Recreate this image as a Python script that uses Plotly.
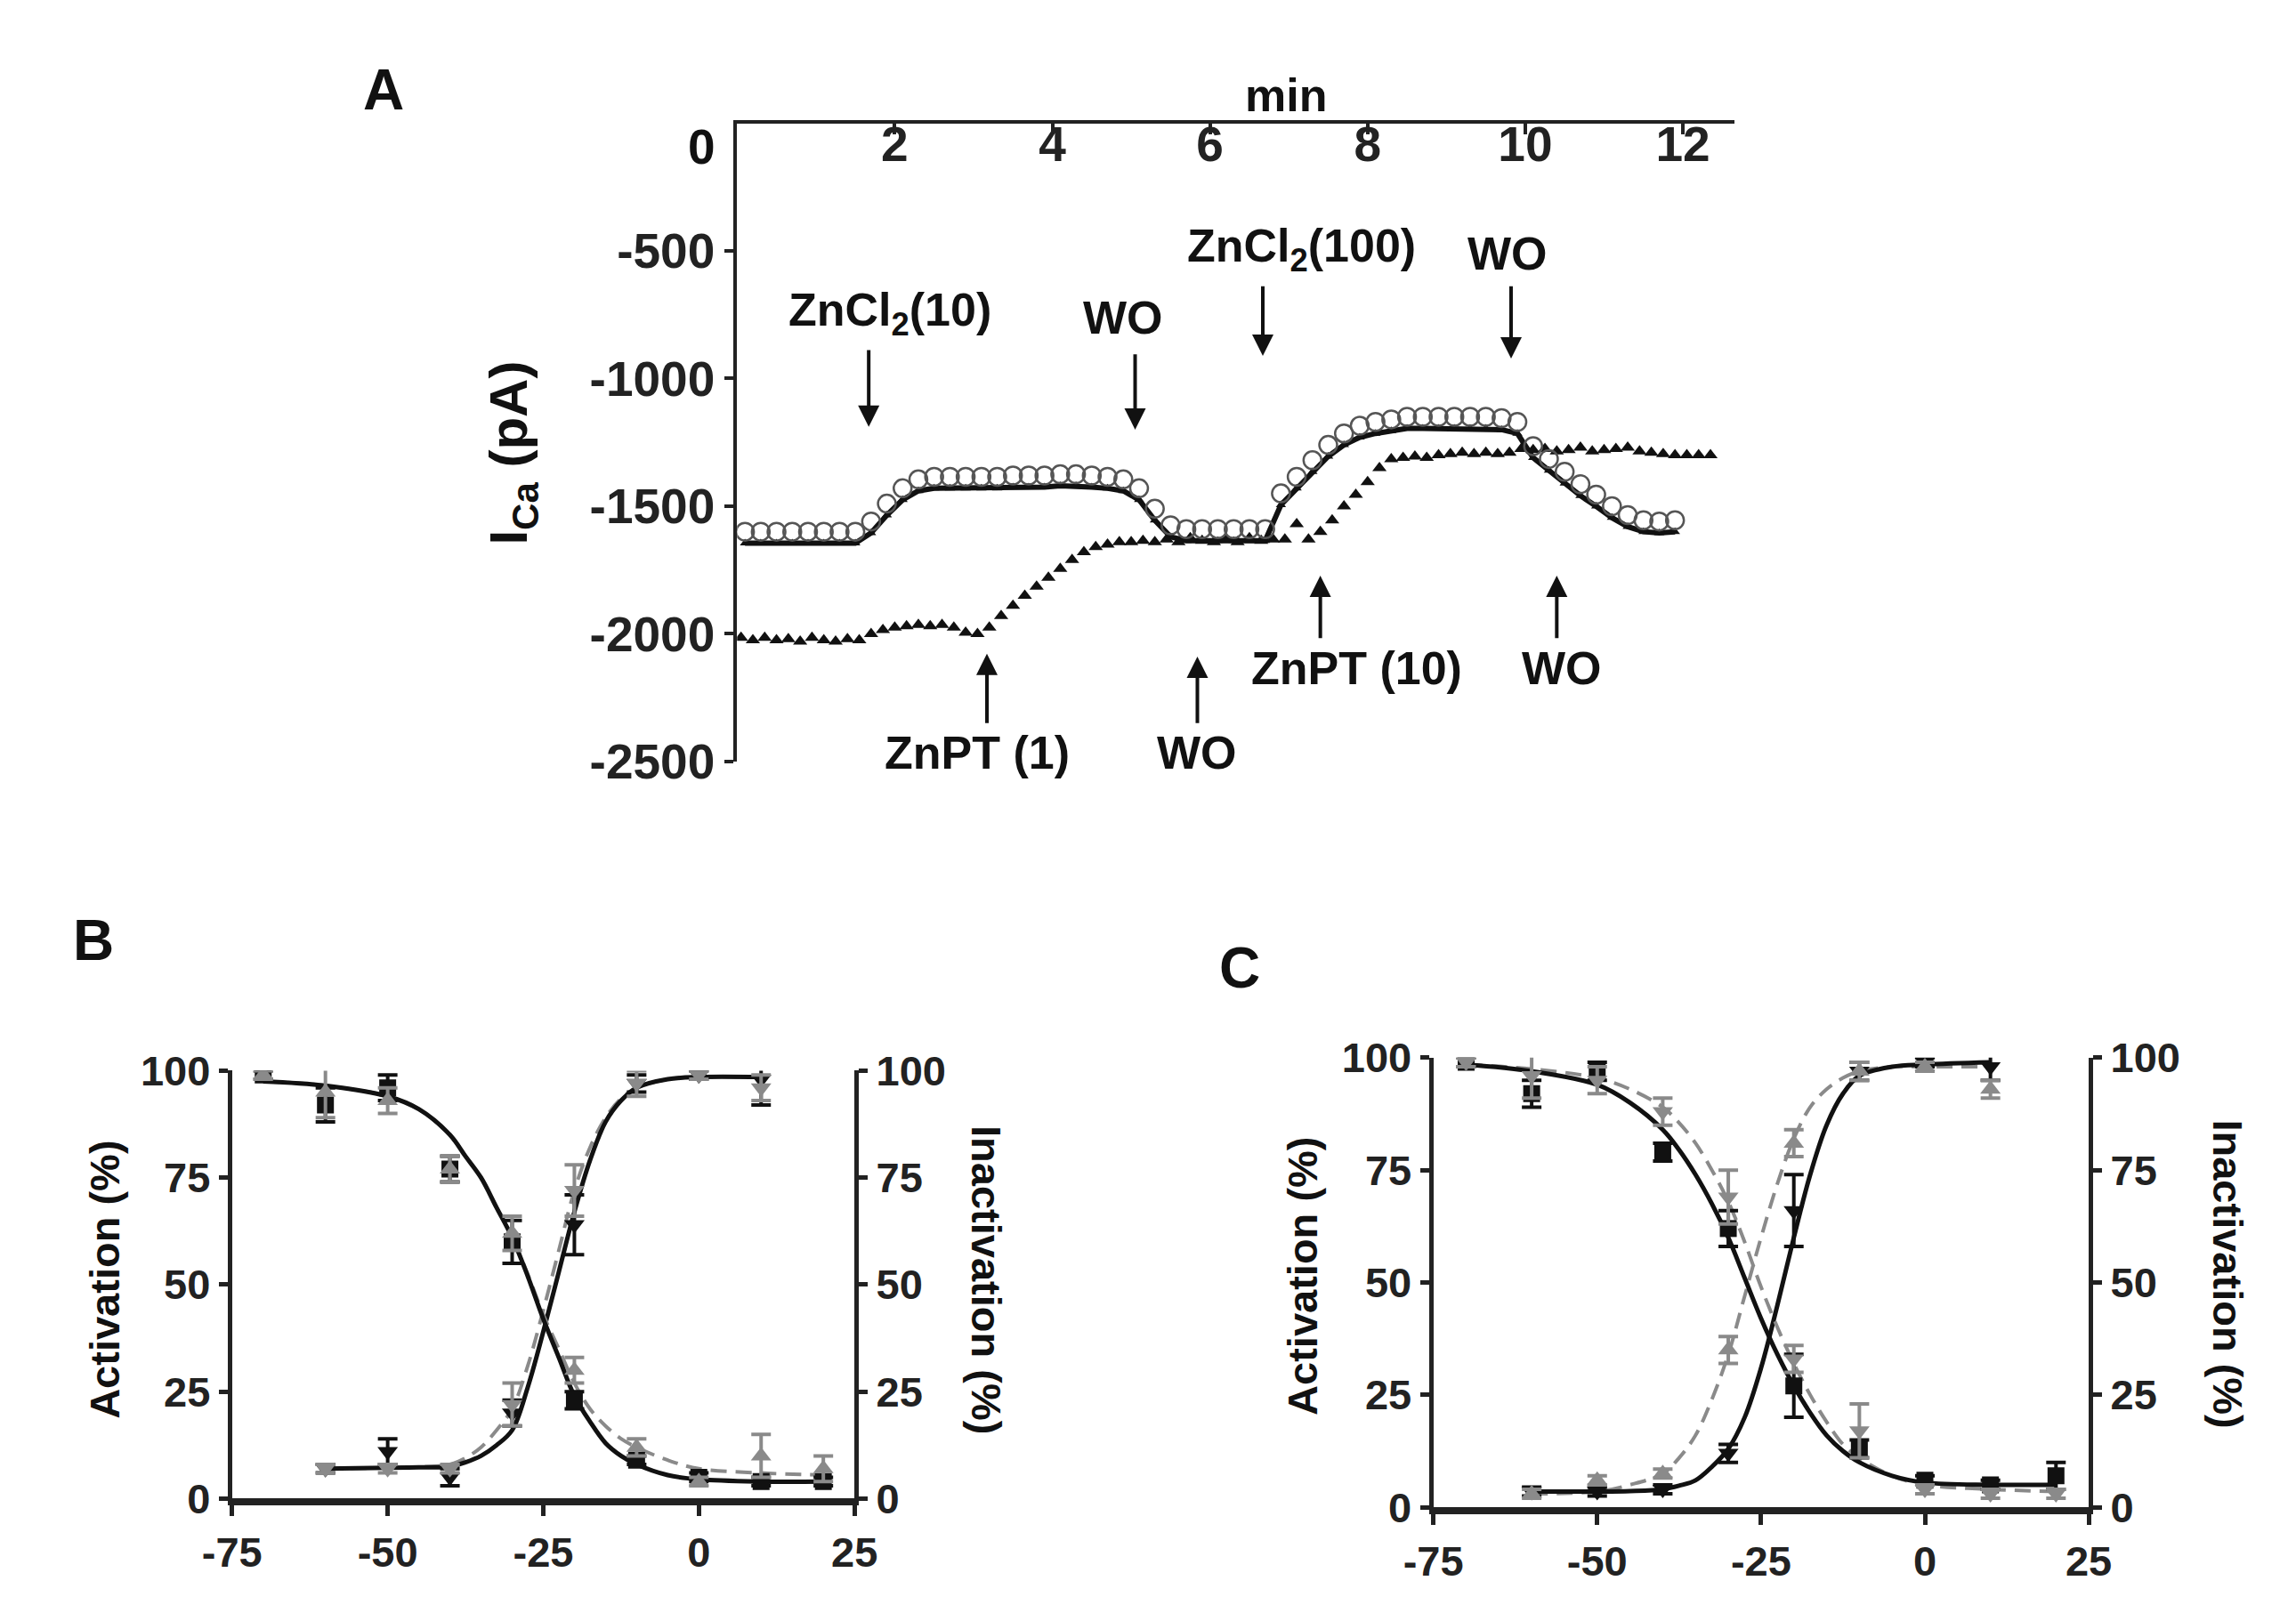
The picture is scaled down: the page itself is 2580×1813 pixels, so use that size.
import plotly.graph_objects as go

# ---------------- Panel A : time course (min, pA) ----------------
t_circ = [0.1, 0.3, 0.5, 0.7, 0.9, 1.1, 1.3, 1.5, 1.7, 1.9,
          2.1, 2.3, 2.5, 2.7, 2.9, 3.1, 3.3, 3.5, 3.7, 3.9,
          4.1, 4.3, 4.5, 4.7, 4.9, 5.1, 5.3, 5.5, 5.7, 5.9,
          6.1, 6.3, 6.5, 6.7, 6.9, 7.1, 7.3, 7.5, 7.7, 7.9,
          8.1, 8.3, 8.5, 8.7, 8.9, 9.1, 9.3, 9.5, 9.7, 9.9,
          10.1, 10.3, 10.5, 10.7, 10.9, 11.1, 11.3, 11.5, 11.7, 11.9]
i_circ = [-1600, -1600, -1600, -1600, -1600, -1600, -1600, -1600, -1560, -1490,
          -1430, -1395, -1385, -1385, -1385, -1385, -1385, -1380, -1380, -1380,
          -1375, -1375, -1380, -1385, -1395, -1430, -1510, -1575, -1590, -1590,
          -1590, -1590, -1590, -1590, -1450, -1385, -1320, -1260, -1215, -1185,
          -1170, -1160, -1150, -1150, -1150, -1150, -1150, -1150, -1155, -1170,
          -1265, -1315, -1365, -1414, -1455, -1500, -1535, -1555, -1560, -1555]
# dark trace running just under the open circles
i_circ_low = [-1645, -1645, -1645, -1645, -1645, -1645, -1645, -1645, -1605, -1535,
              -1475, -1440, -1430, -1430, -1430, -1430, -1430, -1425, -1425, -1425,
              -1420, -1420, -1425, -1430, -1440, -1475, -1555, -1620, -1635, -1635,
              -1635, -1635, -1635, -1635, -1495, -1430, -1365, -1305, -1260, -1230,
              -1215, -1205, -1195, -1195, -1195, -1195, -1195, -1195, -1200, -1215,
              -1310, -1360, -1410, -1459, -1500, -1545, -1580, -1600, -1605, -1600]

t_tri = [0.05, 0.2, 0.35, 0.5, 0.65, 0.8, 0.95, 1.1, 1.25, 1.4, 1.55,
         1.7, 1.85, 2.0, 2.15, 2.3, 2.45, 2.6, 2.75,
         2.9, 3.05, 3.2, 3.35, 3.5, 3.65, 3.8, 3.95, 4.1, 4.25, 4.4, 4.55, 4.7, 4.85, 5.0,
         5.15, 5.3, 5.45, 5.6, 5.75, 5.9, 6.05, 6.2, 6.35, 6.5, 6.65, 6.8, 6.95,
         7.1, 7.25, 7.4, 7.55, 7.7, 7.85, 8.0, 8.15, 8.3, 8.45, 8.6, 8.75, 8.9,
         9.05, 9.2, 9.35, 9.5, 9.65, 9.8, 9.95, 10.1, 10.25, 10.4, 10.55, 10.7,
         10.85, 11.0, 11.15, 11.3, 11.45, 11.6, 11.75, 11.9, 12.05, 12.2, 12.35]
i_tri = [-2015, -2025, -2015, -2025, -2020, -2030, -2015, -2025, -2030, -2020, -2025,
         -2000, -1985, -1975, -1970, -1965, -1970, -1965, -1975,
         -1995, -2000, -1975, -1930, -1890, -1850, -1815, -1780, -1745, -1710, -1680, -1660, -1650, -1640, -1640,
         -1635, -1640, -1630, -1640, -1625, -1635, -1640, -1630, -1640, -1625, -1635, -1630, -1630,
         -1570, -1630, -1600, -1555, -1500, -1455, -1405, -1350, -1315, -1310, -1305, -1310, -1300,
         -1295, -1290, -1295, -1290, -1295, -1290, -1275, -1280, -1275, -1285, -1280, -1270,
         -1285, -1280, -1275, -1270, -1285, -1290, -1295, -1300, -1300, -1300, -1300]

# ---------------- Panel B : activation / inactivation (mV, %) ----------------
v_act = [-60, -50, -40, -30, -20, -10, 0, 10]
v_inact = [-70, -60, -50, -40, -30, -20, -10, 0, 10, 20]

b_act_blk = [7, 11, 5, 20, 64, 97, 99, 98]
b_act_blk_err = [1, 3, 2, 3, 7, 2, 1, 6]
b_act_gry = [7, 7, 7, 22, 72, 97, 99, 96]
b_act_gry_err = [1, 1, 1, 5, 6, 3, 1, 3]
b_in_blk = [99, 92, 96, 77, 60, 23, 9, 5, 4, 4]
b_in_blk_err = [1, 4, 3, 3, 5, 2, 1, 1, 1, 1]
b_in_gry = [99, 95, 93, 77, 62, 30, 12, 4, 10, 7]
b_in_gry_err = [1, 6, 3, 3, 4, 3, 2, 1, 5, 3]

v_fit = [-70, -60, -50, -45, -40, -37.5, -35, -32.5, -30, -27.5, -25, -22.5, -20,
         -17.5, -15, -12.5, -10, -5, 0, 10, 20]
b_fit_act_blk = [None, 7, 7.2, 7.3, 7.5, 8.5, 10, 12.5, 16, 26, 39, 53, 67,
                 79, 88, 93, 96, 98, 98.5, 98.5, None]
b_fit_act_gry = [None, 7, 7.2, 7.4, 8, 9.5, 12, 16, 21, 31, 44, 58, 72,
                 82, 89, 93.5, 96, 98, 98.5, 98.5, None]
b_fit_in_blk = [97.5, 96.5, 94, 91, 85, 80, 75, 68, 61, 52, 42, 33, 24,
                18, 13, 10, 8, 5.5, 4.5, 4, 4]
b_fit_in_gry = [97.5, 96.5, 94, 91, 85, 80, 75, 68, 61, 52.5, 43, 35, 27,
                21, 17, 14, 12, 9, 7, 6, 5.5]

# ---------------- Panel C ----------------
c_act_blk = [3.5, 3.5, 4, 12, 66, 97, 99, 98]
c_act_blk_err = [1, 1, 1, 2, 8, 2, 1, 3]
c_act_gry = [3, 6, 7.5, 35, 81, 97, 98, 93]
c_act_gry_err = [1, 1, 1, 3, 3, 2, 1, 2]
c_in_blk = [99, 92, 97, 79, 62, 27, 13, 6, 5, 7]
c_in_blk_err = [1, 3, 2, 2, 4, 7, 2, 1, 1, 3]
c_in_gry = [99, 96, 95, 88, 69, 33, 17, 4, 3, 3]
c_in_gry_err = [1, 5, 3, 3, 6, 3, 6, 1, 1, 1]

c_fit_act_blk = [None, 3.5, 3.5, 3.6, 4, 4.8, 6, 9, 13, 20, 31, 45, 60,
                 74, 85, 92, 96, 98, 98.5, 99, None]
c_fit_act_gry = [None, 3, 3.5, 5, 7.5, 11, 16, 24, 34, 47, 60, 72, 82,
                 89, 93, 95.5, 97, 98, 98, 98, None]
c_fit_in_blk = [98.5, 97, 94, 90, 84, 79.5, 74, 67.5, 60, 51, 42, 34, 27,
                21, 16, 12.5, 10, 7, 5.5, 5, 5]
c_fit_in_gry = [98.5, 97.5, 95.5, 93, 89, 85.5, 81, 75, 68, 59, 49, 40, 32,
                25, 19, 14, 11, 7, 5, 4, 3.5]

ticks_mv = [-75, -50, -25, 0, 25]
ticks_pct = [0, 25, 50, 75, 100]
ticks_pa = [0, -500, -1000, -1500, -2000, -2500]
ticks_min = [2, 4, 6, 8, 10, 12]

BLACK = "#111111"
GRAY = "#8a8a8a"
FONT = "Liberation Sans"
W, H = 2580, 1813

fig = go.Figure()

# ---- panel A traces
fig.add_trace(go.Scatter(x=t_circ, y=i_circ_low, mode="lines+markers", xaxis="x", yaxis="y",
                         line=dict(color=BLACK, width=6),
                         marker=dict(symbol="triangle-up", size=10, color=BLACK), showlegend=False))
fig.add_trace(go.Scatter(x=t_tri, y=i_tri, mode="markers", xaxis="x", yaxis="y",
                         marker=dict(symbol="triangle-up", size=14, color=BLACK), showlegend=False))
fig.add_trace(go.Scatter(x=t_circ, y=i_circ, mode="markers", xaxis="x", yaxis="y",
                         marker=dict(symbol="circle-open", size=20, color="#555555",
                                     line=dict(width=2.5)), showlegend=False))


def add_panel(xa, ya_left, ya_right, act_blk, act_blk_err, act_gry, act_gry_err,
              in_blk, in_blk_err, in_gry, in_gry_err,
              f_act_blk, f_act_gry, f_in_blk, f_in_gry, sym_act_gry, sym_in_gry):
    # fitted curves
    fig.add_trace(go.Scatter(x=v_fit, y=f_act_gry, mode="lines", xaxis=xa, yaxis=ya_left,
                             line=dict(color=GRAY, width=4, dash="18px,10px", shape="spline"),
                             showlegend=False))
    fig.add_trace(go.Scatter(x=v_fit, y=f_in_gry, mode="lines", xaxis=xa, yaxis=ya_right,
                             line=dict(color=GRAY, width=4, dash="18px,10px", shape="spline"),
                             showlegend=False))
    fig.add_trace(go.Scatter(x=v_fit, y=f_act_blk, mode="lines", xaxis=xa, yaxis=ya_left,
                             line=dict(color=BLACK, width=5, shape="spline"), showlegend=False))
    fig.add_trace(go.Scatter(x=v_fit, y=f_in_blk, mode="lines", xaxis=xa, yaxis=ya_right,
                             line=dict(color=BLACK, width=5, shape="spline"), showlegend=False))
    # data points
    fig.add_trace(go.Scatter(x=v_inact, y=in_blk, mode="markers", xaxis=xa, yaxis=ya_right,
                             marker=dict(symbol="square", size=19, color=BLACK),
                             error_y=dict(type="data", array=in_blk_err, color=BLACK,
                                          thickness=4, width=11), showlegend=False))
    fig.add_trace(go.Scatter(x=v_act, y=act_blk, mode="markers", xaxis=xa, yaxis=ya_left,
                             marker=dict(symbol="triangle-down", size=20, color=BLACK),
                             error_y=dict(type="data", array=act_blk_err, color=BLACK,
                                          thickness=4, width=11), showlegend=False))
    fig.add_trace(go.Scatter(x=v_inact, y=in_gry, mode="markers", xaxis=xa, yaxis=ya_right,
                             marker=dict(symbol=sym_in_gry, size=20, color=GRAY),
                             error_y=dict(type="data", array=in_gry_err, color=GRAY,
                                          thickness=4, width=11), showlegend=False))
    fig.add_trace(go.Scatter(x=v_act, y=act_gry, mode="markers", xaxis=xa, yaxis=ya_left,
                             marker=dict(symbol=sym_act_gry, size=20, color=GRAY),
                             error_y=dict(type="data", array=act_gry_err, color=GRAY,
                                          thickness=4, width=11), showlegend=False))


add_panel("x2", "y2", "y3", b_act_blk, b_act_blk_err, b_act_gry, b_act_gry_err,
          b_in_blk, b_in_blk_err, b_in_gry, b_in_gry_err,
          b_fit_act_blk, b_fit_act_gry, b_fit_in_blk, b_fit_in_gry,
          "triangle-down", "triangle-up")
add_panel("x3", "y4", "y5", c_act_blk, c_act_blk_err, c_act_gry, c_act_gry_err,
          c_in_blk, c_in_blk_err, c_in_gry, c_in_gry_err,
          c_fit_act_blk, c_fit_act_gry, c_fit_in_blk, c_fit_in_gry,
          "triangle-up", "triangle-down")

tickfont_a = dict(family=FONT, size=55, color="#222222", weight="bold")
tickfont_b = dict(family=FONT, size=47, color="#222222", weight="bold")


def px_x(p):
    return p / W


def px_y(p):
    return 1 - p / H


common = dict(showgrid=False, zeroline=False, showline=True, linecolor="#222222",
              tickcolor="#222222", fixedrange=True)

layout = dict(
    width=W, height=H, margin=dict(l=0, r=0, t=0, b=0),
    paper_bgcolor="white", plot_bgcolor="white", showlegend=False,
    xaxis=dict(domain=[px_x(805), px_x(1952)], anchor="y", side="top", range=[0, 12.65],
               tickvals=ticks_min, ticks="inside", ticklen=12, tickwidth=4, linewidth=4,
               ticklabelposition="inside", tickfont=tickfont_a, **common),
    yaxis=dict(domain=[px_y(848), px_y(107)], anchor="x", range=[-2500, 0],
               tickvals=ticks_pa,
               ticktext=["" if v == 0 else str(v) for v in ticks_pa],
               ticks="outside", ticklen=10, tickwidth=4, linewidth=4,
               tickfont=tickfont_a, **common),
    xaxis2=dict(domain=[px_x(224), px_x(940)], anchor="y2", range=[-75, 25],
                tickvals=ticks_mv, ticktext=[str(v) for v in ticks_mv],
                ticks="outside", ticklen=12, tickwidth=5, linewidth=8,
                tickfont=tickfont_b, **common),
    yaxis2=dict(domain=[px_y(1704), px_y(1207)], anchor="x2", range=[0, 100],
                tickvals=ticks_pct, ticks="outside", ticklen=10, tickwidth=5, linewidth=5,
                tickfont=tickfont_b, **common),
    yaxis3=dict(domain=[px_y(1704), px_y(1207)], anchor="x2", overlaying="y2", side="right",
                range=[0, 100], tickvals=ticks_pct, ticks="outside", ticklen=10, tickwidth=5,
                linewidth=5, tickfont=tickfont_b, **common),
    xaxis3=dict(domain=[px_x(1606), px_x(2360)], anchor="y4", range=[-75, 25],
                tickvals=ticks_mv, ticktext=[str(v) for v in ticks_mv],
                ticks="outside", ticklen=12, tickwidth=5, linewidth=8,
                tickfont=tickfont_b, **common),
    yaxis4=dict(domain=[px_y(1714), px_y(1192)], anchor="x3", range=[0, 100],
                tickvals=ticks_pct, ticks="outside", ticklen=10, tickwidth=5, linewidth=5,
                tickfont=tickfont_b, **common),
    yaxis5=dict(domain=[px_y(1714), px_y(1192)], anchor="x3", overlaying="y4", side="right",
                range=[0, 100], tickvals=ticks_pct, ticks="outside", ticklen=10, tickwidth=5,
                linewidth=5, tickfont=tickfont_b, **common),
)
fig.update_layout(**layout)

ann = []


def paper_text(x, y, text, size, angle=0, xanchor="center"):
    ann.append(dict(x=px_x(x), y=px_y(y), xref="paper", yref="paper", text=text,
                    showarrow=False, textangle=angle, xanchor=xanchor, yanchor="middle",
                    font=dict(family=FONT, size=size, color="#111111", weight="bold")))


paper_text(398, 68, "A", 64)
paper_text(64, 1056, "B", 64)
paper_text(1383, 1088, "C", 64)
paper_text(1436, 74, "min", 52)
paper_text(782, 134, "0", 55, xanchor="right")
paper_text(547, 490, "I<sub>Ca</sub> (pA)", 60, -90)
paper_text(77, 1450, "Activation (%)", 47, -90)
paper_text(1092, 1450, "Inactivation (%)", 47, 90)
paper_text(1456, 1446, "Activation (%)", 47, -90)
paper_text(2520, 1443, "Inactivation (%)", 47, 90)

# drug application labels and arrows in panel A (data coordinates)
labels = [(1.94, -744, "ZnCl<sub>2</sub>(10)"), (4.9, -761, "WO"),
          (7.16, -494, "ZnCl<sub>2</sub>(100)"), (9.78, -511, "WO"),
          (3.04, -2467, "ZnPT (1)"), (5.84, -2467, "WO"),
          (7.86, -2133, "ZnPT (10)"), (10.46, -2133, "WO")]
arrows = [(1.67, -883, -1189), (5.05, -900, -1200), (6.67, -633, -911), (9.82, -633, -922),
          (3.17, -2355, -2078), (5.84, -2355, -2089), (7.4, -2022, -1772), (10.4, -2022, -1772)]
for lx, ly, txt in labels:
    ann.append(dict(x=lx, y=ly, xref="x", yref="y", text=txt, showarrow=False,
                    font=dict(family=FONT, size=52, color="#111111", weight="bold")))
for ax_, y0, y1 in arrows:
    ann.append(dict(x=ax_, y=y1, ax=ax_, ay=y0, xref="x", yref="y", axref="x", ayref="y",
                    text="", showarrow=True, arrowhead=2, arrowsize=1.2, arrowwidth=4,
                    arrowcolor="#111111"))
fig.update_layout(annotations=ann)

fig.write_html("out.html")
